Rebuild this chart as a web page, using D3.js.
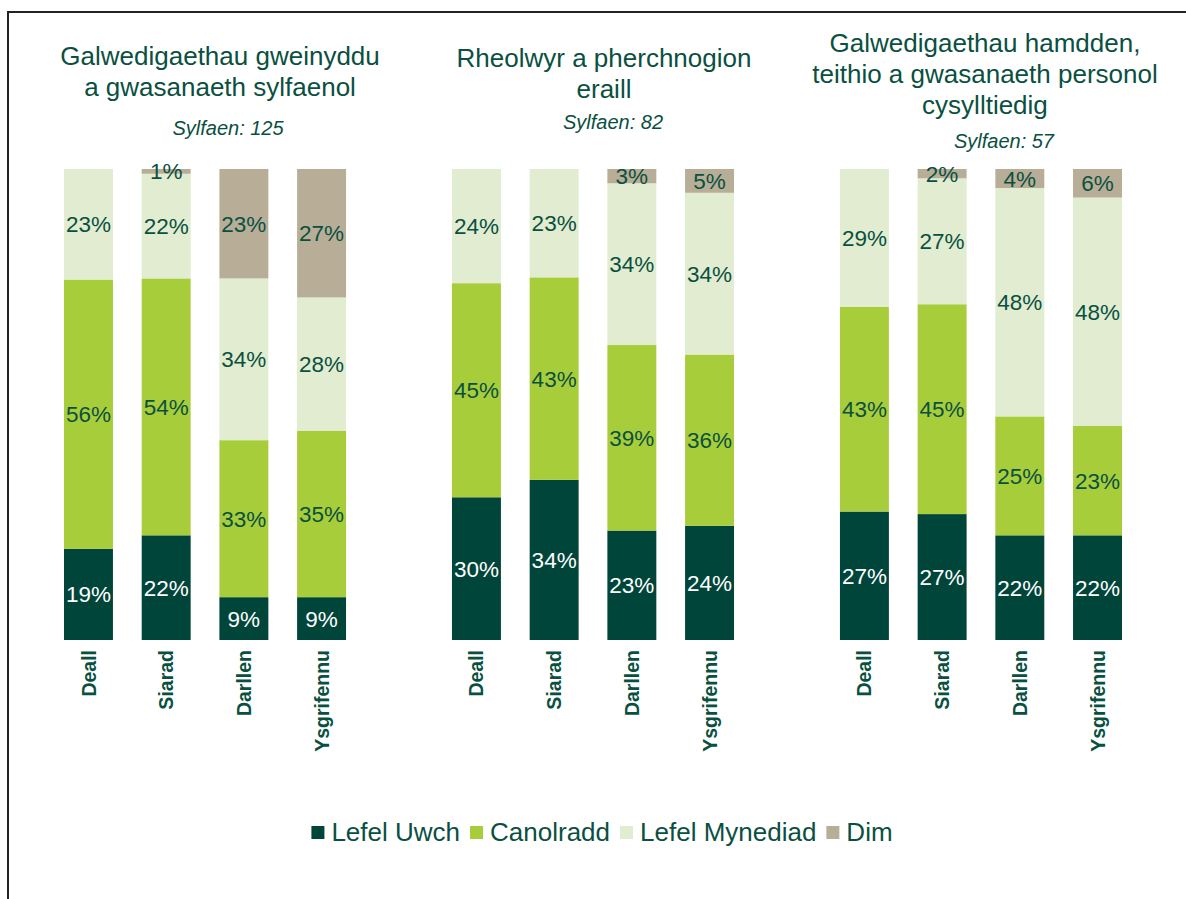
<!DOCTYPE html>
<html>
<head>
<meta charset="utf-8">
<script src="https://cdn.jsdelivr.net/npm/d3@7/dist/d3.min.js"></script>
<style>
  body { margin: 0; background: #fff; }
  text { font-family: Arial, "Liberation Sans", sans-serif; }
</style>
</head>
<body>
<svg width="1186" height="899"></svg>
<script>
// Panel titles and base sizes
var titles = [
  ["Galwedigaethau gweinyddu", "a gwasanaeth sylfaenol"],
  ["Rheolwyr a pherchnogion", "eraill"],
  ["Galwedigaethau hamdden,", "teithio a gwasanaeth personol", "cysylltiedig"]
];
var bases = [125, 82, 57];

// Categories and series
var skills = ["Deall", "Siarad", "Darllen", "Ysgrifennu"];
var levels = ["Lefel Uwch", "Canolradd", "Lefel Mynediad", "Dim"];

// Values (%) per panel, per skill
var uwch      = [[19, 22, 9, 9],   [30, 34, 23, 24], [27, 27, 22, 22]];
var canolradd = [[56, 54, 33, 35], [45, 43, 39, 36], [43, 45, 25, 23]];
var mynediad  = [[23, 22, 34, 28], [24, 23, 34, 34], [29, 27, 48, 48]];
var dim       = [[0, 1, 23, 27],   [0, 0, 3, 5],     [0, 2, 4, 6]];

var series = [uwch, canolradd, mynediad, dim];

// Colours
var colors = ["#00453a", "#a8cd3a", "#e1ecd0", "#b8ae97"];
var textColor = "#0a5041";

var svg = d3.select("svg"),
    width = +svg.attr("width"),
    height = +svg.attr("height");

// Frame (only left and top edges show)
svg.append("path")
    .attr("d", "M8," + height + "V12H" + width)
    .attr("fill", "none")
    .attr("stroke", "#222")
    .attr("stroke-width", 2);

// Scales
var x0 = d3.scaleBand()
    .domain(d3.range(titles.length))
    .range([64, 1122])
    .paddingInner(0.273);

var x1 = d3.scaleBand()
    .domain(skills)
    .range([0, x0.bandwidth()])
    .paddingInner(0.37);

var y = d3.scaleLinear()
    .domain([0, 1])
    .range([640, 169]);

var color = d3.scaleOrdinal().domain(levels).range(colors);

// Title layout tweaks
var titleShift = [15, 11, 4];
var titleTop = [65, 67, 52];
var lineHeight = 31;
var baseShift = [23, 20, 23];
var baseY = [135, 129, 148];

var stack = d3.stack()
    .keys(levels)
    .offset(d3.stackOffsetExpand);

titles.forEach(function(t, i) {
    var rows = skills.map(function(s, j) {
        var r = {skill: s};
        levels.forEach(function(l, k) { r[l] = series[k][i][j]; });
        return r;
    });

    var g = svg.append("g")
        .attr("transform", "translate(" + x0(i) + ",0)");

    var cx = x0.bandwidth() / 2;

    // title
    g.append("text")
        .attr("text-anchor", "middle")
        .attr("fill", textColor)
        .style("font-size", "26px")
      .selectAll("tspan")
      .data(t)
      .enter().append("tspan")
        .attr("x", cx + titleShift[i])
        .attr("y", function(d, k) { return titleTop[i] + k * lineHeight; })
        .text(function(d) { return d; });

    g.append("text")
        .attr("x", cx + baseShift[i])
        .attr("y", baseY[i])
        .attr("text-anchor", "middle")
        .attr("fill", textColor)
        .style("font-size", "20px")
        .style("font-style", "italic")
        .text("Sylfaen: " + bases[i]);

    var layers = g.selectAll(".layer")
        .data(stack(rows))
        .enter().append("g")
        .attr("class", "layer")
        .attr("fill", function(d) { return color(d.key); });

    layers.selectAll("rect")
        .data(function(d) { return d; })
        .enter().append("rect")
        .attr("x", function(d) { return x1(d.data.skill); })
        .attr("y", function(d) { return y(d[1]); })
        .attr("width", x1.bandwidth())
        .attr("height", function(d) { return y(d[0]) - y(d[1]); });

    layers.selectAll("text")
        .data(function(d) {
            return d.map(function(p) { p.key = d.key; return p; })
                    .filter(function(p) { return p.data[d.key] > 0; });
        })
        .enter().append("text")
        .attr("x", function(d) { return x1(d.data.skill) + x1.bandwidth() / 2; })
        .attr("y", function(d) { return (y(d[0]) + y(d[1])) / 2; })
        .attr("dy", "0.36em")
        .attr("text-anchor", "middle")
        .attr("fill", function(d) { return d.key === "Lefel Uwch" ? "#fff" : textColor; })
        .style("font-size", "22.5px")
        .text(function(d) { return d.data[d.key] + "%"; });

    // category labels
    g.selectAll(".cat")
        .data(skills)
        .enter().append("text")
        .attr("class", "cat")
        .attr("transform", function(d) {
            return "translate(" + (x1(d) + x1.bandwidth() / 2) + ",650) rotate(-90)";
        })
        .attr("dy", "0.36em")
        .attr("text-anchor", "end")
        .attr("fill", textColor)
        .style("font-size", "19.5px")
        .style("font-weight", "bold")
        .text(function(d) { return d; });
});

// Legend
var legend = svg.append("g");
var lx = 0;
levels.forEach(function(l, k) {
    var item = legend.append("g").attr("transform", "translate(" + lx + ",0)");
    item.append("rect")
        .attr("x", 0)
        .attr("y", -15)
        .attr("width", 13)
        .attr("height", 13)
        .attr("fill", colors[k]);
    var t = item.append("text")
        .attr("x", 20)
        .attr("y", 0)
        .attr("fill", textColor)
        .style("font-size", "26px")
        .text(l);
    lx += 20 + t.node().getComputedTextLength() + 10;
});
lx -= 10;
legend.attr("transform", "translate(" + (602 - lx / 2) + ",841)");
</script>
</body>
</html>
